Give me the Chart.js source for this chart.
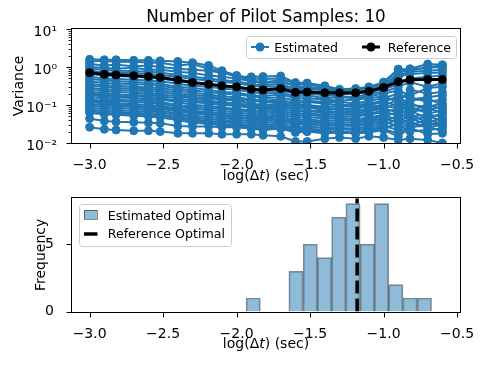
<!DOCTYPE html>
<html>
<head>
<meta charset="utf-8">
<script src="https://cdn.jsdelivr.net/npm/chart.js@4.4.0/dist/chart.umd.min.js"></script>
<style>
  html, body { margin: 0; padding: 0; background: #fff; }
  #wrap { position: relative; width: 490px; height: 367px; }
  canvas { position: absolute; left: 0; top: 0; }
</style>
</head>
<body>
<div id="wrap">
  <canvas id="varChart" width="490" height="367"></canvas>
  <canvas id="histChart" width="490" height="367"></canvas>
</div>
<script>
// log10 of the time steps
const logDt = [-3.0, -2.9, -2.82, -2.7, -2.6, -2.52, -2.4, -2.3, -2.19, -2.1, -2.0, -1.9, -1.82,
               -1.7, -1.6, -1.52, -1.4, -1.3, -1.19, -1.1, -1.0, -0.9, -0.82, -0.7, -0.6];

const reference = [0.71, 0.64, 0.62, 0.59, 0.56, 0.53, 0.455, 0.39, 0.35, 0.32, 0.30, 0.26, 0.25,
                   0.27, 0.215, 0.22, 0.21, 0.21, 0.21, 0.23, 0.29, 0.41, 0.46, 0.47, 0.47];

// one row per pilot run
const estimatedRuns = [
    [1.6, 1.55, 1.55, 1.5, 1.5, 1.45, 1.4, 1.3, 1.1, 0.8, 0.6, 0.5, 0.48, 0.5, 0.36, 0.34, 0.3, 0.25, 0.26, 0.29, 0.38, 0.85, 0.9, 1.2, 1.15],
    [1.4, 1.45, 1.35, 1.4, 1.3, 1.3, 1.1, 1.2, 0.9, 0.75, 0.55, 0.55, 0.56, 0.58, 0.39, 0.38, 0.32, 0.26, 0.27, 0.3, 0.4, 0.88, 0.8, 1.0, 1.1],
    [1.2, 1.1, 1.15, 1.05, 1.1, 1.0, 0.9, 0.85, 0.8, 0.7, 0.58, 0.45, 0.4, 0.45, 0.3, 0.3, 0.27, 0.24, 0.25, 0.28, 0.33, 0.7, 0.85, 0.95, 1.0],
    [1.0, 0.95, 0.9, 0.95, 0.85, 0.85, 0.75, 0.7, 0.6, 0.55, 0.5, 0.42, 0.38, 0.4, 0.32, 0.28, 0.25, 0.22, 0.2, 0.25, 0.3, 0.6, 0.75, 0.8, 0.85],
    [0.9, 0.85, 0.8, 0.78, 0.75, 0.72, 0.62, 0.55, 0.5, 0.45, 0.42, 0.35, 0.33, 0.36, 0.26, 0.27, 0.24, 0.21, 0.22, 0.24, 0.28, 0.55, 0.65, 0.7, 0.72],
    [0.8, 0.72, 0.7, 0.7, 0.65, 0.62, 0.55, 0.48, 0.44, 0.4, 0.38, 0.32, 0.3, 0.31, 0.25, 0.24, 0.2, 0.19, 0.2, 0.22, 0.26, 0.35, 0.5, 0.55, 0.6],
    [0.65, 0.6, 0.58, 0.55, 0.52, 0.5, 0.42, 0.38, 0.35, 0.3, 0.28, 0.25, 0.23, 0.24, 0.2, 0.2, 0.18, 0.17, 0.16, 0.2, 0.22, 0.3, 0.4, 0.3, 0.38],
    [0.55, 0.5, 0.48, 0.46, 0.44, 0.42, 0.36, 0.32, 0.3, 0.27, 0.25, 0.22, 0.2, 0.21, 0.17, 0.18, 0.15, 0.16, 0.15, 0.17, 0.2, 0.24, 0.18, 0.28, 0.3],
    [0.48, 0.45, 0.42, 0.4, 0.38, 0.36, 0.3, 0.28, 0.25, 0.22, 0.21, 0.18, 0.17, 0.19, 0.15, 0.15, 0.14, 0.13, 0.14, 0.15, 0.17, 0.12, 0.25, 0.2, 0.22],
    [0.42, 0.38, 0.37, 0.35, 0.34, 0.32, 0.27, 0.24, 0.22, 0.2, 0.19, 0.17, 0.15, 0.16, 0.13, 0.13, 0.12, 0.12, 0.11, 0.13, 0.15, 0.2, 0.14, 0.16, 0.18],
    [0.36, 0.33, 0.32, 0.3, 0.29, 0.28, 0.24, 0.21, 0.19, 0.17, 0.16, 0.14, 0.13, 0.14, 0.11, 0.12, 0.11, 0.1, 0.1, 0.11, 0.13, 0.09, 0.16, 0.12, 0.14],
    [0.32, 0.3, 0.28, 0.27, 0.26, 0.25, 0.21, 0.18, 0.17, 0.15, 0.14, 0.13, 0.12, 0.12, 0.1, 0.1, 0.09, 0.095, 0.09, 0.1, 0.12, 0.17, 0.1, 0.09, 0.11],
    [0.28, 0.26, 0.25, 0.24, 0.23, 0.22, 0.19, 0.16, 0.15, 0.14, 0.13, 0.11, 0.1, 0.11, 0.09, 0.09, 0.085, 0.08, 0.082, 0.09, 0.1, 0.08, 0.13, 0.15, 0.1],
    [0.25, 0.23, 0.22, 0.21, 0.2, 0.19, 0.17, 0.15, 0.13, 0.12, 0.11, 0.1, 0.09, 0.1, 0.08, 0.085, 0.075, 0.078, 0.07, 0.08, 0.095, 0.14, 0.07, 0.1, 0.08],
    [0.22, 0.2, 0.19, 0.18, 0.18, 0.17, 0.15, 0.13, 0.12, 0.11, 0.1, 0.09, 0.085, 0.09, 0.075, 0.07, 0.07, 0.065, 0.068, 0.075, 0.085, 0.06, 0.11, 0.075, 0.09],
    [0.2, 0.18, 0.17, 0.17, 0.16, 0.15, 0.13, 0.12, 0.11, 0.1, 0.095, 0.083, 0.078, 0.08, 0.066, 0.07, 0.062, 0.063, 0.06, 0.07, 0.08, 0.11, 0.065, 0.08, 0.065],
    [0.18, 0.17, 0.16, 0.15, 0.14, 0.14, 0.12, 0.1, 0.095, 0.085, 0.08, 0.072, 0.068, 0.07, 0.06, 0.06, 0.055, 0.056, 0.055, 0.06, 0.07, 0.05, 0.09, 0.06, 0.07],
    [0.16, 0.15, 0.14, 0.13, 0.13, 0.12, 0.1, 0.09, 0.085, 0.078, 0.073, 0.065, 0.06, 0.063, 0.052, 0.055, 0.05, 0.048, 0.05, 0.055, 0.065, 0.08, 0.05, 0.055, 0.05],
    [0.14, 0.13, 0.125, 0.12, 0.115, 0.11, 0.09, 0.08, 0.075, 0.068, 0.064, 0.057, 0.052, 0.056, 0.046, 0.048, 0.044, 0.044, 0.042, 0.047, 0.055, 0.04, 0.07, 0.045, 0.06],
    [0.13, 0.12, 0.11, 0.105, 0.1, 0.095, 0.08, 0.07, 0.066, 0.06, 0.057, 0.05, 0.047, 0.05, 0.04, 0.042, 0.038, 0.04, 0.038, 0.042, 0.05, 0.065, 0.04, 0.05, 0.04],
    [0.12, 0.11, 0.1, 0.095, 0.09, 0.088, 0.074, 0.064, 0.06, 0.054, 0.05, 0.045, 0.042, 0.044, 0.036, 0.038, 0.034, 0.035, 0.034, 0.038, 0.045, 0.035, 0.055, 0.035, 0.045],
    [0.105, 0.1, 0.095, 0.09, 0.085, 0.08, 0.068, 0.06, 0.055, 0.05, 0.047, 0.042, 0.038, 0.041, 0.033, 0.034, 0.031, 0.031, 0.03, 0.034, 0.04, 0.05, 0.03, 0.04, 0.032],
    [0.095, 0.088, 0.085, 0.08, 0.076, 0.072, 0.06, 0.052, 0.048, 0.044, 0.042, 0.037, 0.034, 0.036, 0.03, 0.031, 0.028, 0.029, 0.028, 0.03, 0.036, 0.028, 0.045, 0.03, 0.036],
    [0.085, 0.078, 0.075, 0.07, 0.068, 0.064, 0.054, 0.047, 0.043, 0.039, 0.037, 0.033, 0.03, 0.032, 0.026, 0.027, 0.025, 0.025, 0.024, 0.027, 0.032, 0.04, 0.025, 0.033, 0.028],
    [0.075, 0.07, 0.066, 0.063, 0.06, 0.057, 0.048, 0.042, 0.038, 0.035, 0.033, 0.029, 0.027, 0.029, 0.023, 0.024, 0.022, 0.023, 0.022, 0.024, 0.028, 0.022, 0.035, 0.026, 0.03],
    [0.068, 0.062, 0.06, 0.057, 0.054, 0.052, 0.044, 0.038, 0.035, 0.031, 0.03, 0.026, 0.024, 0.026, 0.021, 0.022, 0.02, 0.02, 0.019, 0.022, 0.026, 0.03, 0.02, 0.022, 0.024],
    [0.062, 0.057, 0.055, 0.052, 0.05, 0.047, 0.04, 0.034, 0.032, 0.029, 0.027, 0.024, 0.022, 0.024, 0.019, 0.02, 0.018, 0.019, 0.018, 0.02, 0.023, 0.018, 0.027, 0.028, 0.02],
    [0.044, 0.038, 0.036, 0.035, 0.034, 0.033, 0.028, 0.027, 0.027, 0.026, 0.026, 0.024, 0.023, 0.024, 0.02, 0.02, 0.019, 0.019, 0.018, 0.019, 0.022, 0.015, 0.025, 0.017, 0.018],
    [0.026, 0.023, 0.022, 0.021, 0.021, 0.02, 0.018, 0.018, 0.018, 0.017, 0.017, 0.017, 0.016, 0.015, 0.011, 0.011, 0.013, 0.014, 0.013, 0.015, 0.014, 0.012, 0.013, 0.012, 0.01],
];

// histogram of estimated optimal log(dt)
const binCenters = [-1.887, -1.790, -1.693, -1.596, -1.499, -1.402, -1.305, -1.208, -1.111, -1.014, -0.917, -0.820, -0.722];
const binCounts = [1, 0, 0, 3, 5, 4, 7, 8, 5, 8, 2, 1, 1];
const refOptimal = -1.18;

const xTicks = [-3.0, -2.5, -2.0, -1.5, -1.0, -0.5];
const varianceTicks = [0.01, 0.1, 1, 10];
const freqTicks = [0, 5];
const xRange = [-3.12, -0.48];
const freqMax = 8.4;

const BLUE = '#1f77b4';
const FONT = "'DejaVu Sans', sans-serif";

Chart.defaults.font.family = FONT;
Chart.defaults.font.size = 14;
Chart.defaults.color = '#000';

const SUP = { '-': '⁻', '0': '⁰', '1': '¹', '2': '²', '3': '³' };
function fmtPow(v) {
    let e = String(Math.round(Math.log10(v)));
    return '10' + e.split('').map(c => SUP[c]).join('');
}
function fmtX(v) {
    return (v < 0 ? '−' : '') + Math.abs(v).toFixed(1);
}

// spines all round, outward tick marks, x label with italic t
const frame = {
    id: 'frame',
    afterDraw(chart, args, opts) {
        let ctx = chart.ctx;
        let a = chart.chartArea;
        let xs = chart.scales.x, ys = chart.scales.y;
        ctx.save();
        ctx.strokeStyle = '#000';
        ctx.lineWidth = 1;
        let l = Math.round(a.left) - 0.5, r = Math.round(a.right) + 0.5;
        let t = Math.round(a.top) - 0.5, b = Math.round(a.bottom) + 0.5;
        ctx.strokeRect(l, t, r - l, b - t);

        ctx.beginPath();
        xs.ticks.forEach(tk => {
            let px = Math.round(xs.getPixelForValue(tk.value)) + 0.5;
            ctx.moveTo(px, b); ctx.lineTo(px, b + 5);
        });
        ys.ticks.forEach(tk => {
            let py = Math.round(ys.getPixelForValue(tk.value)) + 0.5;
            ctx.moveTo(l, py); ctx.lineTo(l - 5, py);
        });
        ctx.stroke();

        if (ys.type === 'logarithmic') {
            ctx.lineWidth = 0.8;
            ctx.beginPath();
            for (let e = -2; e < 1; e++) {
                for (let m = 2; m < 10; m++) {
                    let py = Math.round(ys.getPixelForValue(m * Math.pow(10, e))) + 0.5;
                    ctx.moveTo(l, py); ctx.lineTo(l - 3, py);
                }
            }
            ctx.stroke();
        }

        // x axis label: log(Δt) (sec) with italic t
        let parts = [['log(Δ', ''], ['t', 'italic '], [') (sec)', '']];
        let widths = parts.map(p => { ctx.font = p[1] + '14px ' + FONT; return ctx.measureText(p[0]).width; });
        let total = widths.reduce((s, w) => s + w, 0);
        let x = (a.left + a.right) / 2 - total / 2;
        ctx.fillStyle = '#000';
        ctx.textAlign = 'left';
        ctx.textBaseline = 'middle';
        parts.forEach((p, i) => {
            ctx.font = p[1] + '14px ' + FONT;
            ctx.fillText(p[0], x, opts.labelY);
            x += widths[i];
        });
        ctx.restore();
    }
};

function legendBox(ctx, x, y, w, h) {
    ctx.beginPath();
    ctx.roundRect(x + 0.5, y + 0.5, w, h, 3);
    ctx.fillStyle = 'rgba(255,255,255,0.8)';
    ctx.fill();
    ctx.strokeStyle = '#cccccc';
    ctx.lineWidth = 1;
    ctx.stroke();
}

const topDecor = {
    id: 'topDecor',
    afterDraw(chart) {
        let ctx = chart.ctx;
        ctx.save();
        ctx.fillStyle = '#000';
        ctx.font = '16.8px ' + FONT;
        ctx.textAlign = 'center';
        ctx.textBaseline = 'alphabetic';
        let a = chart.chartArea;
        ctx.fillText('Number of Pilot Samples: 10', (a.left + a.right) / 2, 22);

        legendBox(ctx, 246, 36, 210, 22);
        let rows = [
            { x: 251, color: BLUE, lw: 2, label: 'Estimated', tx: 274.3 },
            { x: 362, color: '#000', lw: 3, label: 'Reference', tx: 387.7 },
        ];
        ctx.font = '12.6px ' + FONT;
        ctx.textAlign = 'left';
        rows.forEach(r => {
            ctx.strokeStyle = r.color;
            ctx.fillStyle = r.color;
            ctx.lineWidth = r.lw;
            ctx.beginPath();
            ctx.moveTo(r.x, 47); ctx.lineTo(r.x + 18, 47);
            ctx.stroke();
            ctx.beginPath();
            ctx.arc(r.x + 9, 47, 4.5, 0, Math.PI * 2);
            ctx.fill();
            ctx.fillStyle = '#000';
            ctx.fillText(r.label, r.tx, 51.5);
        });
        ctx.restore();
    }
};

const bottomDecor = {
    id: 'bottomDecor',
    afterDraw(chart) {
        let ctx = chart.ctx;
        ctx.save();
        legendBox(ctx, 79, 204, 152, 42);
        ctx.fillStyle = 'rgba(31,119,180,0.5)';
        ctx.fillRect(84, 210, 13, 9);
        ctx.strokeStyle = 'rgba(0,0,0,0.45)';
        ctx.lineWidth = 1;
        ctx.strokeRect(84.5, 210.5, 13, 9);
        ctx.strokeStyle = '#000';
        ctx.lineWidth = 3.5;
        ctx.beginPath();
        ctx.moveTo(84, 234); ctx.lineTo(97.5, 234);
        ctx.stroke();
        ctx.fillStyle = '#000';
        ctx.font = '12.6px ' + FONT;
        ctx.textAlign = 'left';
        ctx.fillText('Estimated Optimal', 107.7, 219.5);
        ctx.fillText('Reference Optimal', 107.7, 238.3);
        ctx.restore();
    }
};

function xAxis(height) {
    return {
        type: 'linear',
        min: xRange[0],
        max: xRange[1],
        offset: false,
        grid: { display: false, offset: false },
        border: { display: false },
        afterBuildTicks: s => { s.ticks = xTicks.map(v => ({ value: v })); },
        afterFit: s => { s.height = height; },
        ticks: { padding: 6.3, maxRotation: 0, autoSkip: false, callback: fmtX },
        title: { display: false },
    };
}

let estSets = estimatedRuns.map(run => ({
    data: logDt.map((x, i) => ({ x: x, y: run[i] })),
    borderColor: BLUE,
    backgroundColor: BLUE,
    borderWidth: 2,
    pointRadius: 4,
    pointBorderWidth: 1,
    order: 1,
}));

new Chart(document.getElementById('varChart'), {
    type: 'line',
    data: {
        datasets: estSets.concat([{
            data: logDt.map((x, i) => ({ x: x, y: reference[i] })),
            borderColor: '#000',
            backgroundColor: '#000',
            borderWidth: 3,
            pointRadius: 4,
            pointBorderWidth: 1,
            order: 0,
        }]),
    },
    options: {
        responsive: false,
        animation: false,
        layout: { padding: { left: 0, right: 30, top: 29, bottom: 177 } },
        plugins: {
            legend: { display: false }, tooltip: { enabled: false }, title: { display: false },
            frame: { labelY: 176.3 },
        },
        scales: {
            x: xAxis(47),
            y: {
                type: 'logarithmic',
                min: 0.01,
                max: 10,
                grid: { display: false },
                border: { display: false },
                afterBuildTicks: s => { s.ticks = varianceTicks.map(v => ({ value: v })); },
                afterFit: s => { s.width = 72; },
                ticks: { padding: 7, labelOffset: 3, autoSkip: false, callback: fmtPow },
                title: { display: true, text: 'Variance', padding: { top: 10.6, bottom: 0 } },
            },
        },
    },
    plugins: [frame, topDecor],
});

new Chart(document.getElementById('histChart'), {
    type: 'bar',
    data: {
        datasets: [
            {
                type: 'line',
                data: [{ x: refOptimal, y: 0 }, { x: refOptimal, y: freqMax }],
                borderColor: '#000',
                borderWidth: 3.5,
                borderDash: [13, 5],
                pointRadius: 0,
                order: 0,
            },
            {
                type: 'bar',
                data: binCenters.map((x, i) => ({ x: x, y: binCounts[i] })),
                backgroundColor: 'rgba(31,119,180,0.5)',
                borderColor: 'rgba(0,0,0,0.45)',
                borderWidth: 1,
                barPercentage: 1,
                categoryPercentage: 1,
                order: 1,
            },
        ],
    },
    options: {
        responsive: false,
        animation: false,
        layout: { padding: { left: 0, right: 30, top: 198.3, bottom: 0 } },
        plugins: {
            legend: { display: false }, tooltip: { enabled: false }, title: { display: false },
            frame: { labelY: 344.8 },
        },
        scales: {
            x: xAxis(55.5),
            y: {
                type: 'linear',
                min: 0,
                max: freqMax,
                grid: { display: false },
                border: { display: false },
                afterBuildTicks: s => { s.ticks = freqTicks.map(v => ({ value: v })); },
                afterFit: s => { s.width = 72; },
                ticks: { padding: 10, autoSkip: false },
                title: { display: true, text: 'Frequency', padding: { top: 32.9, bottom: 0 } },
            },
        },
    },
    plugins: [frame, bottomDecor],
});
</script>
</body>
</html>
